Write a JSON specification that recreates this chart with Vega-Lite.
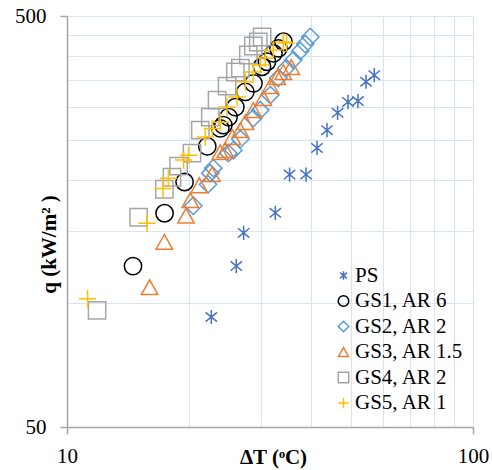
{
  "$schema": "https://vega.github.io/schema/vega-lite/v6.json",
  "width": 406,
  "height": 411,
  "autosize": {"type": "none"},
  "padding": {"left": 67, "top": 16, "right": 19, "bottom": 43},
  "background": "white",
  "config": {"view": {"stroke": null}, "font": "Times New Roman, Liberation Serif, serif"},
  "data": {"values": [
    {"series": "PS", "dT": 22.67, "q": 92.6},
    {"series": "PS", "dT": 26.12, "q": 123.2},
    {"series": "PS", "dT": 27.23, "q": 148.3},
    {"series": "PS", "dT": 32.59, "q": 166},
    {"series": "PS", "dT": 35.34, "q": 205.7},
    {"series": "PS", "dT": 38.8, "q": 205.7},
    {"series": "PS", "dT": 41.28, "q": 238.8},
    {"series": "PS", "dT": 43.69, "q": 263.8},
    {"series": "PS", "dT": 46.4, "q": 290.6},
    {"series": "PS", "dT": 49.22, "q": 309},
    {"series": "PS", "dT": 52.08, "q": 310.5},
    {"series": "PS", "dT": 54.52, "q": 345.9},
    {"series": "PS", "dT": 57.13, "q": 359},

    {"series": "GS1, AR 6", "dT": 14.54, "q": 123.2},
    {"series": "GS1, AR 6", "dT": 17.39, "q": 165.6},
    {"series": "GS1, AR 6", "dT": 19.48, "q": 197.3},
    {"series": "GS1, AR 6", "dT": 22.16, "q": 240.8},
    {"series": "GS1, AR 6", "dT": 23.86, "q": 266.4},
    {"series": "GS1, AR 6", "dT": 24.27, "q": 271.3},
    {"series": "GS1, AR 6", "dT": 25.0, "q": 283.8},
    {"series": "GS1, AR 6", "dT": 25.98, "q": 300.1},
    {"series": "GS1, AR 6", "dT": 27.5, "q": 327},
    {"series": "GS1, AR 6", "dT": 28.8, "q": 342.8},
    {"series": "GS1, AR 6", "dT": 30.22, "q": 376.3},
    {"series": "GS1, AR 6", "dT": 31.09, "q": 387},
    {"series": "GS1, AR 6", "dT": 32.25, "q": 405.6},
    {"series": "GS1, AR 6", "dT": 33.17, "q": 417.1},
    {"series": "GS1, AR 6", "dT": 34.13, "q": 432.9},

    {"series": "GS2, AR 2", "dT": 20.47, "q": 172.7},
    {"series": "GS2, AR 2", "dT": 22.25, "q": 194.8},
    {"series": "GS2, AR 2", "dT": 22.54, "q": 207.3},
    {"series": "GS2, AR 2", "dT": 22.93, "q": 213.2},
    {"series": "GS2, AR 2", "dT": 24.97, "q": 231.9},
    {"series": "GS2, AR 2", "dT": 25.69, "q": 235.8},
    {"series": "GS2, AR 2", "dT": 26.73, "q": 250.9},
    {"series": "GS2, AR 2", "dT": 28.77, "q": 282.2},
    {"series": "GS2, AR 2", "dT": 29.93, "q": 295.1},
    {"series": "GS2, AR 2", "dT": 31.68, "q": 321},
    {"series": "GS2, AR 2", "dT": 33.15, "q": 353.2},
    {"series": "GS2, AR 2", "dT": 34.68, "q": 373.5},
    {"series": "GS2, AR 2", "dT": 36.09, "q": 390.7},
    {"series": "GS2, AR 2", "dT": 37.54, "q": 410.9},
    {"series": "GS2, AR 2", "dT": 38.62, "q": 427.3},
    {"series": "GS2, AR 2", "dT": 39.74, "q": 444.5},

    {"series": "GS3, AR 1.5", "dT": 15.98, "q": 109.4},
    {"series": "GS3, AR 1.5", "dT": 17.37, "q": 141.1},
    {"series": "GS3, AR 1.5", "dT": 19.64, "q": 163.3},
    {"series": "GS3, AR 1.5", "dT": 20.12, "q": 178.1},
    {"series": "GS3, AR 1.5", "dT": 21.18, "q": 193.7},
    {"series": "GS3, AR 1.5", "dT": 22.76, "q": 206.1},
    {"series": "GS3, AR 1.5", "dT": 23.86, "q": 233.2},
    {"series": "GS3, AR 1.5", "dT": 24.55, "q": 235.8},
    {"series": "GS3, AR 1.5", "dT": 25.54, "q": 253.7},
    {"series": "GS3, AR 1.5", "dT": 26.73, "q": 263.8},
    {"series": "GS3, AR 1.5", "dT": 27.5, "q": 275.9},
    {"series": "GS3, AR 1.5", "dT": 28.77, "q": 295.1},
    {"series": "GS3, AR 1.5", "dT": 30.44, "q": 315.6},
    {"series": "GS3, AR 1.5", "dT": 31.68, "q": 337.6},
    {"series": "GS3, AR 1.5", "dT": 32.96, "q": 355.2},
    {"series": "GS3, AR 1.5", "dT": 34.1, "q": 365.3},
    {"series": "GS3, AR 1.5", "dT": 35.68, "q": 375.7},

    {"series": "GS4, AR 2", "dT": 11.86, "q": 96.1},
    {"series": "GS4, AR 2", "dT": 15.01, "q": 161.9},
    {"series": "GS4, AR 2", "dT": 17.37, "q": 189.4},
    {"series": "GS4, AR 2", "dT": 18.14, "q": 202.6},
    {"series": "GS4, AR 2", "dT": 18.83, "q": 215.6},
    {"series": "GS4, AR 2", "dT": 20.32, "q": 231.9},
    {"series": "GS4, AR 2", "dT": 21.3, "q": 263.8},
    {"series": "GS4, AR 2", "dT": 22.54, "q": 283.8},
    {"series": "GS4, AR 2", "dT": 23.42, "q": 312.1},
    {"series": "GS4, AR 2", "dT": 24.79, "q": 337.6},
    {"series": "GS4, AR 2", "dT": 25.98, "q": 365.3},
    {"series": "GS4, AR 2", "dT": 26.73, "q": 373.5},
    {"series": "GS4, AR 2", "dT": 27.97, "q": 401.8},
    {"series": "GS4, AR 2", "dT": 28.77, "q": 422.6},
    {"series": "GS4, AR 2", "dT": 29.59, "q": 432.2},
    {"series": "GS4, AR 2", "dT": 30.24, "q": 444.5},

    {"series": "GS5, AR 1", "dT": 11.24, "q": 102.6},
    {"series": "GS5, AR 1", "dT": 15.74, "q": 156.5},
    {"series": "GS5, AR 1", "dT": 17.24, "q": 190.2},
    {"series": "GS5, AR 1", "dT": 17.77, "q": 201.5},
    {"series": "GS5, AR 1", "dT": 19.37, "q": 223.0},
    {"series": "GS5, AR 1", "dT": 19.93, "q": 229.3},
    {"series": "GS5, AR 1", "dT": 21.91, "q": 253.7},
    {"series": "GS5, AR 1", "dT": 22.8, "q": 266.4},
    {"series": "GS5, AR 1", "dT": 23.86, "q": 275.9},
    {"series": "GS5, AR 1", "dT": 24.79, "q": 300.1},
    {"series": "GS5, AR 1", "dT": 26.23, "q": 317.4},
    {"series": "GS5, AR 1", "dT": 27.5, "q": 345.3},
    {"series": "GS5, AR 1", "dT": 28.77, "q": 365.3},
    {"series": "GS5, AR 1", "dT": 29.93, "q": 379.8},
    {"series": "GS5, AR 1", "dT": 30.79, "q": 395.1},
    {"series": "GS5, AR 1", "dT": 32.22, "q": 413.2},
    {"series": "GS5, AR 1", "dT": 34.1, "q": 432.2},
    {"series": "GS5, AR 1", "dT": 34.73, "q": 429.7}
  ]},
  "mark": {"type": "point", "filled": false, "strokeWidth": 1.5, "opacity": 1, "size": 300},
  "encoding": {
    "x": {
      "field": "dT", "type": "quantitative",
      "scale": {"type": "log", "domain": [10, 100], "nice": false},
      "axis": {
        "values": [10, 20, 30, 40, 50, 60, 70, 80, 90, 100],
        "format": "d",
        "labelExpr": "datum.value == 10 || datum.value == 100 ? datum.label : ''",
        "labelFlush": false,
        "labelOverlap": false,
        "labelFont": "Times New Roman, Liberation Serif, serif",
        "labelFontSize": 21,
        "labelColor": "#000000",
        "labelBaseline": "alphabetic",
        "labelPadding": 28,
        "tickSize": 7,
        "tickColor": "#A6A6A6",
        "tickWidth": 1.5,
        "tickOpacity": {"condition": {"test": "datum.value == 10 || datum.value == 100", "value": 1}, "value": 0},
        "domainColor": "#A6A6A6",
        "domainWidth": 1.5,
        "grid": true,
        "gridColor": "#D6E4F5",
        "gridWidth": 1.2,
        "title": "ΔT (ᵒC)",
        "titleFont": "Times New Roman, Liberation Serif, serif",
        "titleFontSize": 21,
        "titleFontWeight": "bold",
        "titleColor": "#000000",
        "titleBaseline": "alphabetic",
        "titleY": 36,
        "titleX": 206
      }
    },
    "y": {
      "field": "q", "type": "quantitative",
      "scale": {"type": "log", "domain": [50, 500], "nice": false},
      "axis": {
        "values": [50, 100, 150, 200, 250, 300, 350, 400, 450, 500],
        "format": "d",
        "labelExpr": "datum.value == 50 || datum.value == 500 ? datum.label : ''",
        "labelFlush": false,
        "labelOverlap": false,
        "labelFont": "Times New Roman, Liberation Serif, serif",
        "labelFontSize": 21,
        "labelColor": "#000000",
        "labelPadding": 14,
        "tickSize": 7,
        "tickColor": "#A6A6A6",
        "tickWidth": 1.5,
        "tickOpacity": {"condition": {"test": "datum.value == 50 || datum.value == 500", "value": 1}, "value": 0},
        "domainColor": "#A6A6A6",
        "domainWidth": 1.5,
        "grid": true,
        "gridColor": "#D6E4F5",
        "gridWidth": 1.2,
        "title": "q (kW/m² )",
        "titleFont": "Times New Roman, Liberation Serif, serif",
        "titleFontSize": 21,
        "titleFontWeight": "bold",
        "titleColor": "#000000",
        "titleBaseline": "alphabetic",
        "titleAngle": -90,
        "titleX": -12,
        "titleY": 228
      }
    },
    "color": {
      "field": "series", "type": "nominal",
      "scale": {
        "domain": ["PS", "GS1, AR 6", "GS2, AR 2", "GS3, AR 1.5", "GS4, AR 2", "GS5, AR 1"],
        "range": ["#4472C4", "#000000", "#5B9BD5", "#ED7D31", "#A5A5A5", "#FFC000"]
      },
      "legend": {
        "orient": "none",
        "legendX": 266,
        "legendY": 249,
        "title": null,
        "labelFont": "Times New Roman, Liberation Serif, serif",
        "labelFontSize": 21,
        "labelColor": "#000000",
        "labelOffset": 1,
        "symbolSize": 110,
        "symbolStrokeWidth": 1.5,
        "rowPadding": 3.5,
        "padding": 0
      }
    },
    "shape": {
      "field": "series", "type": "nominal",
      "scale": {
        "domain": ["PS", "GS1, AR 6", "GS2, AR 2", "GS3, AR 1.5", "GS4, AR 2", "GS5, AR 1"],
        "range": [
          "M0,-0.82V0.82M-0.66,-0.54L0.66,0.54M-0.66,0.54L0.66,-0.54",
          "circle",
          "diamond",
          "M0,-0.85L0.95,0.85L-0.95,0.85Z",
          "square",
          "M-1,0H1M0,-1V1"
        ]
      }
    }
  }
}
